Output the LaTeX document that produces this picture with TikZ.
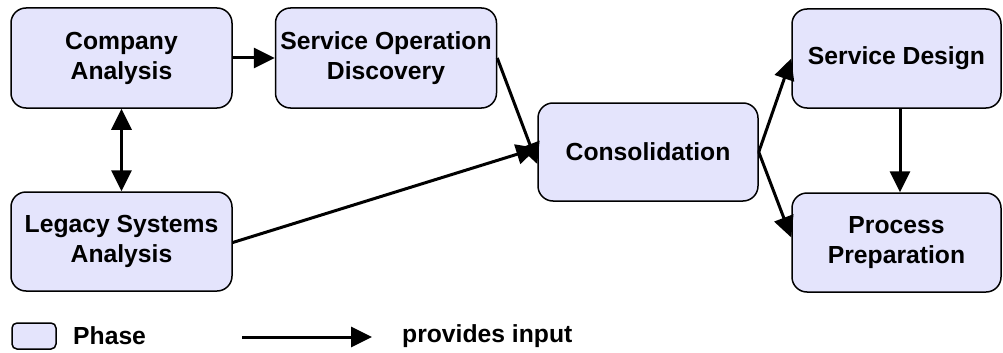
\documentclass[tikz,border=0pt]{standalone}
\usepackage{fontspec}
\setmainfont{Liberation Sans}
\usetikzlibrary{arrows.meta}
\definecolor{phasefill}{RGB}{228,228,252}
\tikzset{
  phase/.style={draw=black, line width=1.5pt, fill=phasefill, rounded corners=15pt,
    align=center, inner sep=0pt,
    font=\fontsize{24.7}{30}\selectfont\bfseries},
  flow/.style={line width=3pt, -{Triangle[length=21pt,width=20pt]}},
  flowboth/.style={line width=3pt, {Triangle[length=21pt,width=20pt]}-{Triangle[length=21pt,width=20pt]}},
  legendtext/.style={anchor=west, inner sep=0pt, font=\fontsize{24.7}{30}\selectfont\bfseries}
}
\begin{document}
\begin{tikzpicture}[x=1pt, y=-1pt]
  \useasboundingbox (0,0) rectangle (1003,353);

  % phases
  \node[phase, minimum width=221pt, minimum height=100pt] (ca)   at (121.5,58)  {Company\\Analysis};
  \node[phase, minimum width=221pt, minimum height=100pt] (sod)  at (386,58)    {Service Operation\\Discovery};
  \node[phase, minimum width=221pt, minimum height=99pt]  (lsa)  at (121.5,241.5) {Legacy Systems\\Analysis};
  \node[phase, minimum width=220pt, minimum height=98pt]  (cons) at (648,152)   {Consolidation};
  \node[phase, minimum width=209pt, minimum height=99pt]  (sd)   at (896.5,58.5) {Service Design};
  \node[phase, minimum width=209pt, minimum height=99pt]  (pp)   at (896.5,242.5) {Process\\Preparation};

  % inputs between phases
  \draw[flow] (ca.east) -- (sod.west);
  \draw[flowboth] (ca.south) -- (lsa.north);
  \draw[flow] (sod.east) -- ([yshift=-12pt]cons.west);
  \draw[flow] ([yshift=-1pt]lsa.east) -- ([yshift=4pt]cons.west);
  \draw[flow] (cons.east) -- (sd.west);
  \draw[flow] (cons.east) -- ([yshift=5pt]pp.west);
  \draw[flow] ([xshift=3.5pt]sd.south) -- ([xshift=3.5pt]pp.north);

  % legend
  \node[draw=black, line width=1.5pt, fill=phasefill, rounded corners=5pt,
        minimum width=44pt, minimum height=26pt, inner sep=0pt] (lbox) at (34,336) {};
  \node[legendtext] (lphase) at (73,336) {Phase};
  \coordinate (la) at (242,337);
  \coordinate (lb) at (372,337);
  \draw[flow] (la) -- (lb);
  \node[legendtext] (linput) at (402,336) {provides input};
\end{tikzpicture}
\end{document}
